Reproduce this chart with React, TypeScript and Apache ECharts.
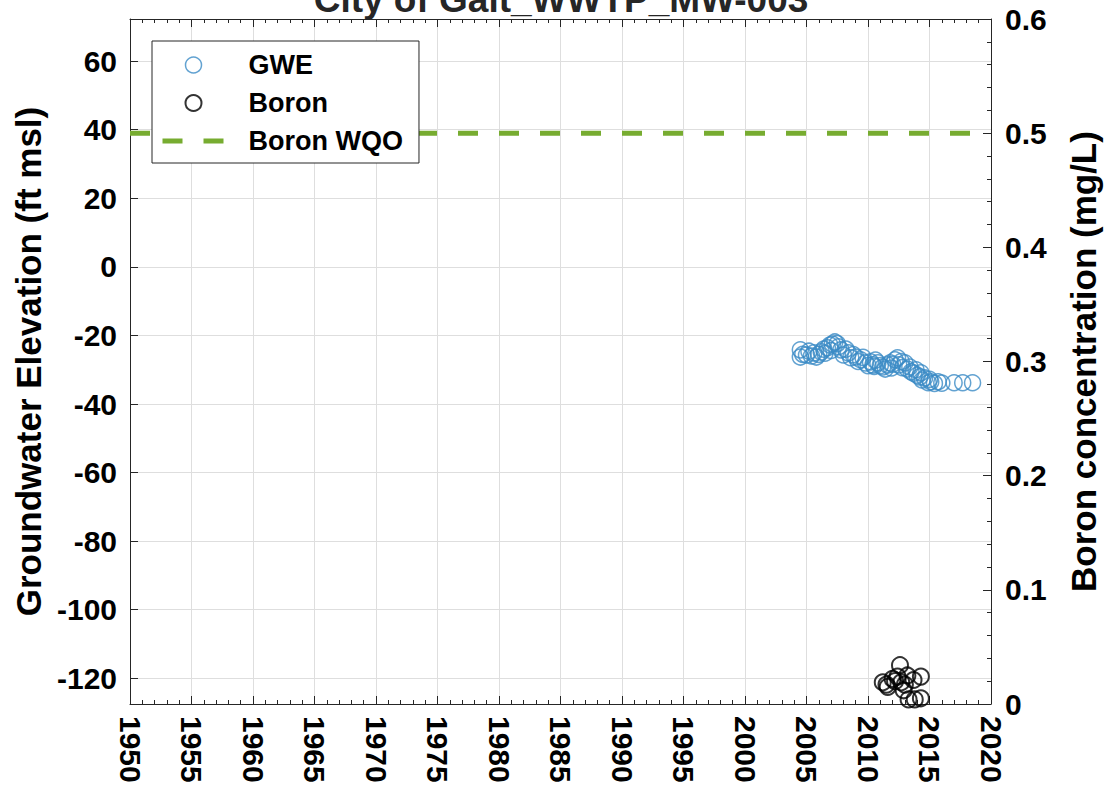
import React, { useEffect, useRef } from "react";
import * as echarts from "echarts";

const TITLE = "City of Galt_WWTP_MW-003";
const LEFT_NAME = "Groundwater Elevation (ft msl)";
const RIGHT_NAME = "Boron concentration (mg/L)";
const LEFT_TICKS = [-120, -100, -80, -60, -40, -20, 0, 20, 40, 60];

// GWE: [decimal year, ft msl]
const gweData: [number, number][] = [
  [2004.5, -24.2], [2004.5, -26.3], [2004.7, -25.5], [2005.0, -25.7],
  [2005.2, -24.6], [2005.4, -26.0], [2005.6, -25.1], [2005.8, -26.3],
  [2006.0, -25.5], [2006.2, -24.8], [2006.4, -24.0], [2006.5, -25.2],
  [2006.7, -23.6], [2006.9, -22.8], [2007.0, -24.4], [2007.1, -22.5],
  [2007.3, -21.9], [2007.5, -22.4], [2007.6, -23.3], [2007.8, -24.2],
  [2008.0, -25.7], [2008.2, -24.0], [2008.4, -25.1], [2008.6, -26.5],
  [2008.8, -25.6], [2009.0, -26.3], [2009.2, -27.6], [2009.4, -27.1],
  [2009.6, -26.4], [2009.8, -28.0], [2010.0, -28.8], [2010.2, -27.7],
  [2010.4, -28.6], [2010.5, -29.0], [2010.6, -27.2], [2010.8, -28.0],
  [2011.0, -28.8], [2011.2, -29.2], [2011.4, -29.8], [2011.6, -28.6],
  [2011.8, -28.0], [2011.9, -29.5], [2012.0, -28.4], [2012.2, -27.1],
  [2012.4, -26.5], [2012.5, -28.6], [2012.7, -27.6], [2012.8, -29.4],
  [2013.0, -28.0], [2013.2, -29.8], [2013.4, -29.2], [2013.5, -30.6],
  [2013.7, -31.0], [2013.9, -30.0], [2014.0, -31.6], [2014.2, -32.1],
  [2014.3, -30.9], [2014.4, -33.0], [2014.6, -32.4], [2014.9, -33.8],
  [2015.0, -32.8], [2015.1, -33.5], [2015.4, -34.0], [2015.7, -33.5],
  [2016.0, -33.9], [2017.0, -33.8], [2017.7, -33.8], [2018.5, -33.8],
];

// Boron: [decimal year, mg/L]
const boronData: [number, number][] = [
  [2011.2, 0.019], [2011.5, 0.017], [2011.6, 0.015], [2012.0, 0.022],
  [2012.2, 0.020], [2012.4, 0.024], [2012.6, 0.034], [2012.7, 0.019],
  [2013.0, 0.017], [2013.2, 0.025], [2013.7, 0.021], [2014.3, 0.024],
  [2013.3, 0.004], [2013.8, 0.004], [2014.3, 0.005], [2012.9, 0.012],
];

// Boron water quality objective (mg/L) spanning the x range
const WQO_VALUE = 0.5;
const X_RANGE = [1950, 2020];

const FONT = "Liberation Sans, Arial, Helvetica, sans-serif";
const INK = "#262626";
const BLUE = "#3b8bc6";
const GREEN = "#77AC30";
const GRID = "#dedede";

export default function App() {
  const ref = useRef<HTMLDivElement>(null);

  useEffect(() => {
    if (!ref.current) return;
    const chart = echarts.init(ref.current, undefined, { renderer: "svg" });
    const wqoData = X_RANGE.map((x) => [x, WQO_VALUE]);

    const option: any = {
      animation: false,
      backgroundColor: "#ffffff",
      textStyle: { fontFamily: FONT },
      graphic: [
        {
          type: "text",
          x: 561,
          y: -1,
          style: {
            text: TITLE,
            font: `bold 37px ${FONT}`,
            fill: INK,
            align: "center",
            verticalAlign: "middle",
          },
        },
      ],
      grid: { left: 130, right: 116, top: 19, bottom: 88, containLabel: false },
      legend: {
        orient: "vertical",
        left: 152,
        top: 41,
        padding: [9, 16, 7, 8],
        itemGap: 8,
        itemWidth: 62,
        itemHeight: 16,
        borderColor: INK,
        borderWidth: 1,
        backgroundColor: "#ffffff",
        textStyle: {
          fontFamily: FONT,
          fontWeight: "bold",
          fontSize: 27,
          color: "#000",
          lineHeight: 30,
          padding: [0, 0, 0, 19],
        },
        data: [
          {
            name: "GWE",
            icon: "circle",
            itemStyle: { color: "rgba(0,0,0,0)", borderColor: BLUE, borderWidth: 1.5 },
          },
          {
            name: "Boron",
            icon: "circle",
            itemStyle: { color: "rgba(0,0,0,0)", borderColor: "#000", borderWidth: 2 },
          },
          {
            name: "Boron WQO",
            itemStyle: { color: "rgba(0,0,0,0)", borderColor: "rgba(0,0,0,0)", borderWidth: 0, opacity: 0 },
            lineStyle: { color: GREEN, width: 5, type: [20, 21] },
          },
        ],
      },
      xAxis: [
        {
          type: "value",
          min: X_RANGE[0],
          max: X_RANGE[1],
          interval: 5,
          position: "bottom",
          axisLine: { show: true, onZero: false, lineStyle: { color: INK, width: 1 } },
          axisTick: { show: true, inside: true, length: 8, lineStyle: { color: INK } },
          minorTick: { show: true, splitNumber: 5, length: 4, lineStyle: { color: INK } },
          splitLine: { show: true, lineStyle: { color: GRID, width: 1 } },
          axisLabel: {
            rotate: -90,
            margin: 12,
            fontFamily: FONT,
            fontWeight: "bold",
            fontSize: 30,
            color: "#000",
            formatter: (v: number) => String(v),
          },
        },
        {
          type: "value",
          min: X_RANGE[0],
          max: X_RANGE[1],
          interval: 5,
          position: "top",
          axisLine: { show: true, onZero: false, lineStyle: { color: INK, width: 1 } },
          axisTick: { show: true, inside: true, length: 8, lineStyle: { color: INK } },
          minorTick: { show: true, splitNumber: 5, length: 4, lineStyle: { color: INK } },
          splitLine: { show: false },
          axisLabel: { show: false },
        },
      ],
      yAxis: [
        {
          type: "value",
          min: -127.5,
          max: 72.3,
          position: "left",
          name: LEFT_NAME,
          nameLocation: "middle",
          nameRotate: 90,
          nameGap: 80,
          nameTextStyle: { fontFamily: FONT, fontWeight: "bold", fontSize: 35, color: "#000" },
          axisLine: { show: true, onZero: false, lineStyle: { color: INK, width: 1 } },
          axisTick: { show: true, inside: true, length: 8, customValues: LEFT_TICKS, lineStyle: { color: INK } },
          splitLine: { show: true, lineStyle: { color: GRID, width: 1 } },
          axisLabel: {
            customValues: LEFT_TICKS,
            margin: 13,
            fontFamily: FONT,
            fontWeight: "bold",
            fontSize: 30,
            color: "#000",
          },
        },
        {
          type: "value",
          min: 0,
          max: 0.6,
          interval: 0.1,
          position: "right",
          name: RIGHT_NAME,
          nameLocation: "middle",
          nameRotate: 90,
          nameGap: 75,
          nameTextStyle: { fontFamily: FONT, fontWeight: "bold", fontSize: 35, color: "#000" },
          axisLine: { show: true, onZero: false, lineStyle: { color: INK, width: 1 } },
          axisTick: { show: true, inside: true, length: 8, lineStyle: { color: INK } },
          minorTick: { show: true, splitNumber: 5, length: 4, lineStyle: { color: INK } },
          splitLine: { show: false },
          axisLabel: {
            margin: 14,
            fontFamily: FONT,
            fontWeight: "bold",
            fontSize: 30,
            color: "#000",
          },
        },
      ],
      series: [
        {
          name: "GWE",
          type: "scatter",
          xAxisIndex: 0,
          yAxisIndex: 0,
          data: gweData,
          symbol: "circle",
          symbolSize: 16,
          itemStyle: { color: "rgba(0,0,0,0)", borderColor: BLUE, borderWidth: 1.5 },
          z: 3,
        },
        {
          name: "Boron",
          type: "scatter",
          xAxisIndex: 0,
          yAxisIndex: 1,
          data: boronData,
          symbol: "circle",
          symbolSize: 16,
          itemStyle: { color: "rgba(0,0,0,0)", borderColor: "#000", borderWidth: 2 },
          z: 3,
        },
        {
          name: "Boron WQO",
          type: "line",
          xAxisIndex: 0,
          yAxisIndex: 1,
          data: wqoData,
          symbol: "none",
          lineStyle: { color: GREEN, width: 5, type: [20, 21] },
          z: 2,
        },
      ],
    };

    chart.setOption(option);
    return () => chart.dispose();
  }, []);

  return (
    <div
      ref={ref}
      style={{ position: "fixed", left: 0, top: 0, width: 1109, height: 792 }}
    />
  );
}
